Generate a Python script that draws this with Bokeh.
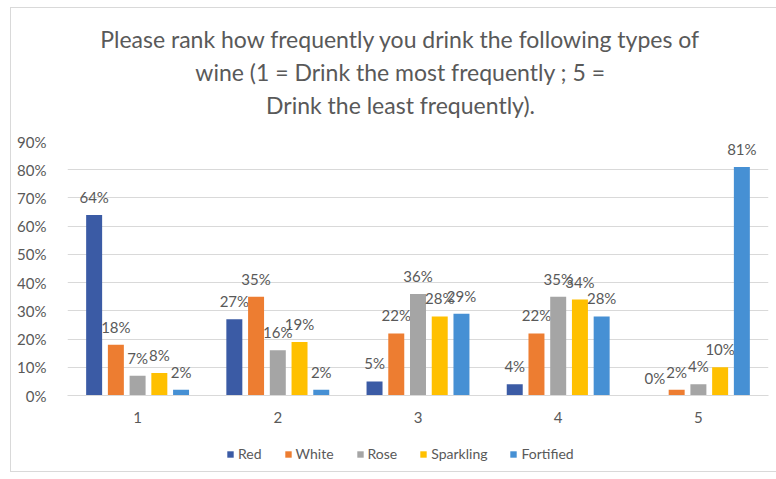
from bokeh.plotting import figure
from bokeh.layouts import column
from bokeh.models import ColumnDataSource, FactorRange, Range1d, FixedTicker, Legend, LegendItem, Label
from bokeh.transform import dodge
from bokeh.core.properties import value
from bokeh.embed import file_html
from bokeh.resources import INLINE

categories = ["1", "2", "3", "4", "5"]
series = ["Red", "White", "Rose", "Sparkling", "Fortified"]
red = [0.64, 0.27, 0.05, 0.04, 0.00]
white = [0.18, 0.35, 0.22, 0.22, 0.02]
rose = [0.07, 0.16, 0.36, 0.35, 0.04]
sparkling = [0.08, 0.19, 0.28, 0.34, 0.10]
fortified = [0.02, 0.02, 0.29, 0.28, 0.81]
y_ticks = [0.0, 0.1, 0.2, 0.3, 0.4, 0.5, 0.6, 0.7, 0.8, 0.9]
y_tick_labels = ["0%", "10%", "20%", "30%", "40%", "50%", "60%", "70%", "80%", "90%"]
title_lines = [
    "Please rank how frequently you drink the following types of",
    "wine (1 = Drink the most frequently ; 5 =",
    "Drink the least frequently).",
]
colors = ["#3B5BA5", "#ED7D31", "#A5A5A5", "#FFC000", "#4690D4"]

FONT = "Lato"
TXT = "#595959"
W = 766

values_by_series = [red, white, rose, sparkling, fortified]
data = {"cat": categories}
for name, vals in zip(series, values_by_series):
    data[name] = vals
    data[name + "_lbl"] = ["%d%%" % round(v * 100) for v in vals]
source = ColumnDataSource(data)


def strip(h):
    f = figure(width=W, height=h, x_range=Range1d(0, 1), y_range=Range1d(0, 1),
               output_backend="svg", toolbar_location=None,
               min_border_left=0, min_border_right=0, min_border_top=0, min_border_bottom=0)
    f.axis.visible = False
    f.grid.visible = False
    f.outline_line_color = None
    f.border_fill_color = "white"
    f.background_fill_color = "white"
    return f


# ---- title strip (its frame is aligned with the chart frame by the column) ----
head = strip(123)
baselines = [93, 60, 27]
for line, yb in zip(title_lines, baselines):
    head.add_layout(Label(x=333, y=yb, x_units="screen", y_units="screen", text=line,
                          text_align="center", text_baseline="alphabetic",
                          text_font=FONT, text_font_size="23px", text_color=TXT))

# ---- main chart ----
p = figure(
    x_range=FactorRange(*categories, range_padding=0),
    y_range=Range1d(0, 0.9),
    width=W, height=305,
    output_backend="svg", toolbar_location=None,
    min_border_left=56, min_border_right=9, min_border_top=10, min_border_bottom=41,
)
p.outline_line_color = None
p.background_fill_color = "white"
p.border_fill_color = "white"

offsets = [-0.31, -0.155, 0.0, 0.155, 0.31]
for name, col, off in zip(series, colors, offsets):
    p.vbar(x=dodge("cat", off, range=p.x_range), top=name, width=0.114,
           source=source, fill_color=col, line_color=None)
    p.text(x=dodge("cat", off, range=p.x_range), y=name, text=name + "_lbl",
           source=source, text_align="center", text_baseline="bottom", y_offset=-9,
           text_font=value(FONT), text_font_size="15px", text_color=TXT)

p.xgrid.grid_line_color = None
p.ygrid.grid_line_color = "#d9d9d9"
p.ygrid.ticker = FixedTicker(ticks=y_ticks)

p.yaxis.ticker = FixedTicker(ticks=y_ticks)
p.yaxis.major_label_overrides = {t: l for t, l in zip(y_ticks, y_tick_labels)}
p.yaxis.axis_line_color = None
p.yaxis.major_tick_line_color = None
p.yaxis.minor_tick_line_color = None
p.yaxis.major_label_standoff = 15
p.yaxis.major_label_text_font = FONT
p.yaxis.major_label_text_font_size = "15px"
p.yaxis.major_label_text_color = TXT

p.xaxis.axis_line_color = "#d9d9d9"
p.xaxis.major_tick_line_color = None
p.xaxis.minor_tick_line_color = None
p.xaxis.major_label_standoff = 10
p.xaxis.major_label_text_font = FONT
p.xaxis.major_label_text_font_size = "15px"
p.xaxis.major_label_text_color = TXT

# ---- legend strip ----
lf = strip(35)
swatch = ColumnDataSource({"x": [0.5], "top": [0.0]})
items = []
for name, col in zip(series, colors):
    r = lf.vbar(x="x", top="top", width=0.0, source=swatch, fill_color=col, line_color=None)
    items.append(LegendItem(label=name, renderers=[r]))
legend = Legend(items=items, orientation="horizontal", location=(159, 9),
                glyph_width=8, glyph_height=8, spacing=22, label_standoff=4,
                label_text_font=FONT, label_text_font_size="14px", label_text_color=TXT,
                border_line_color=None, background_fill_alpha=0, padding=0, margin=0)
lf.add_layout(legend, "center")

layout = column(head, p, lf, spacing=0)
layout.margin = (7, 0, 0, 10)
layout.styles = {"border": "1px solid #d9d9d9"}

open("out.html", "w").write(file_html(layout, INLINE))
